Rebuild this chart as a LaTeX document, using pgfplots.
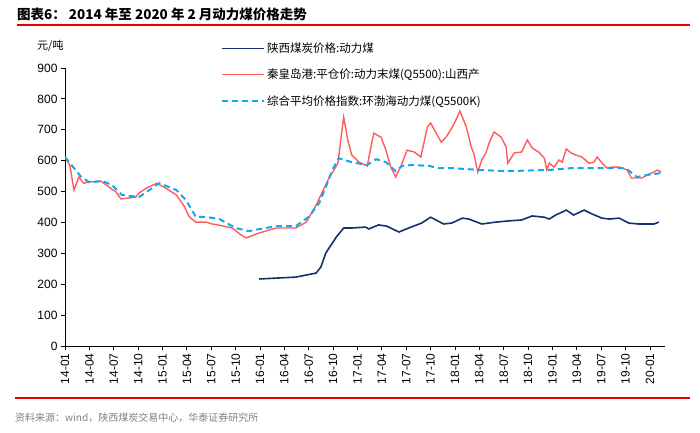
\documentclass[border=0pt]{standalone}
\usepackage{fontspec}
\setmainfont{Liberation Sans}
\newfontfamily\cjk{Noto Sans CJK SC}
\usepackage{pgfplots}
\pgfplotsset{compat=1.18}

\definecolor{navy}{HTML}{14306E}
\definecolor{qred}{HTML}{FF5B5B}
\definecolor{cyanb}{HTML}{12A8EC}
\definecolor{rule}{HTML}{E60000}

\begin{document}
\begin{tikzpicture}
\useasboundingbox (0,0) rectangle (700bp,-433bp);

% title, unit, rules, source
\node[anchor=base west, inner sep=0] at (17bp,-19bp) {\cjk\bfseries\fontsize{13.5bp}{15bp}\selectfont 图表6：\ 2014 年至 2020 年 2 月动力煤价格走势};
\draw[rule, line width=1.5bp] (17bp,-25bp) -- (690bp,-25bp);
\node[anchor=base west, inner sep=0] at (37bp,-49bp) {\cjk\fontsize{11bp}{13bp}\selectfont 元/吨};
\draw[rule, line width=1.2bp] (15bp,-398bp) -- (690bp,-398bp);
\node[anchor=base west, inner sep=0, text=black!50] at (15bp,-421bp) {\cjk\fontsize{10bp}{12bp}\selectfont 资料来源：wind，陕西煤炭交易中心，华泰证券研究所};

\begin{axis}[
  at={(65bp,-346bp)}, anchor=south west,
  scale only axis, width=600bp, height=278bp,
  xmin=0, xmax=73.85, ymin=0, ymax=900,
  axis lines=left,
  axis line style={-, line width=1bp},
  ytick={0,100,...,900},
  xtick={0,3,...,72},
  xticklabels={14-01,14-04,14-07,14-10,15-01,15-04,15-07,15-10,16-01,16-04,16-07,16-10,17-01,17-04,17-07,17-10,18-01,18-04,18-07,18-10,19-01,19-04,19-07,19-10,20-01},
  xticklabel style={rotate=90, anchor=east, font=\fontsize{12bp}{14bp}\selectfont},
  yticklabel style={font=\fontsize{12bp}{14bp}\selectfont},
  /pgf/number format/assume math mode=true,
  tick align=outside, major tick length=4bp,
  tick style={black, line width=0.8bp},
  legend style={at={(0.255,1.105)}, anchor=north west, draw=none, fill=none,
    font=\cjk\fontsize{11.5bp}{13bp}\selectfont, row sep=11bp,
    /tikz/every even column/.append style={column sep=0bp}},
  legend cell align=left,
  legend image code/.code={\draw[#1] (0bp,0bp) -- (42bp,0bp);},
]
\addplot[navy, line width=1.6bp] coordinates {
(23.9,217) (28.4,223) (30.9,236) (31.5,256) (32.1,301) (33.4,353) (34.3,382) (35.3,382)
(37.0,385) (37.4,379) (38.6,392) (39.6,388) (41.1,369) (42.3,382) (43.9,398) (45.0,417)
(46.6,395) (47.6,398) (48.9,414) (49.7,411) (51.3,395) (53.0,401) (54.6,405) (56.2,408)
(57.5,421) (59.0,417) (59.6,411) (60.4,424) (61.7,440) (62.6,424) (63.9,440) (64.9,427)
(66.1,414) (67.0,411) (68.2,414) (69.4,398) (70.6,395) (72.5,395) (73.1,401)
};
\addlegendentry{陕西煤炭价格:动力煤}
\addplot[qred, line width=1.4bp] coordinates {
(0,612) (0.6,585) (1.1,505) (1.7,547) (2.3,527) (3.0,531) (4.4,534) (5.4,515) (6.3,498)
(6.9,476) (8.7,482) (9.1,495) (10.0,511) (11.3,527) (12.4,511) (13.7,489) (14.6,456)
(15.3,418) (16.1,401) (17.4,401) (18.1,395) (19.0,391) (20.6,382) (21.7,359) (22.3,350)
(23.9,366) (26.0,382) (28.4,382) (29.7,401) (30.9,456) (31.9,511) (32.5,544) (33.1,570)
(33.6,592) (33.9,657) (34.3,741) (34.8,667) (35.3,618) (36.2,595) (37.2,583) (38.0,689)
(38.9,676) (39.5,634) (40.1,579) (40.7,547) (41.5,592) (42.1,634) (43.0,628) (43.8,612)
(44.6,709) (45.0,722) (45.7,689) (46.3,660) (46.9,676) (47.6,705) (48.1,731) (48.6,761)
(49.4,709) (50.0,644) (50.3,625) (50.8,563) (51.3,602) (51.8,625) (52.2,657) (52.8,693)
(53.7,676) (54.3,644) (54.5,592) (55.3,625) (56.2,628) (56.9,667) (57.5,641) (58.3,628)
(59.0,608) (59.3,570) (59.6,592) (60.2,579) (60.8,602) (61.2,595) (61.7,638) (62.3,625)
(62.9,618) (63.6,612) (64.5,592) (65.1,595) (65.5,612) (66.1,592) (66.7,576) (67.2,579)
(68.2,579) (69.2,570) (69.7,544) (71.0,544) (71.9,557) (72.5,563) (72.9,570) (73.4,563)
};
\addlegendentry{秦皇岛港:平仓价:动力末煤(Q5500):山西产}
\addplot[cyanb, line width=2bp, dash pattern=on 6bp off 4bp] coordinates {
(0,612) (2.0,547) (3.0,530) (4.6,534) (5.8,521) (7.0,489) (9.1,482) (11.6,527) (13.7,505)
(14.9,472) (16.1,418) (17.4,418) (19.0,411) (21.0,382) (22.6,372) (24.7,382) (26.0,388)
(28.4,388) (30.0,418) (31.3,463) (32.1,515) (32.9,570) (33.7,608) (35.3,595) (37.2,586)
(38.3,605) (39.5,595) (40.7,566) (41.5,583) (42.7,586) (44.8,583) (46.0,576) (47.6,576)
(51.0,570) (54.3,566) (59.6,570) (62.4,576) (66.6,576) (69.0,576) (70.4,547) (71.5,553)
(73.4,560)
};
\addlegendentry{综合平均价格指数:环渤海动力煤(Q5500K)}
\end{axis}
\end{tikzpicture}
\end{document}
